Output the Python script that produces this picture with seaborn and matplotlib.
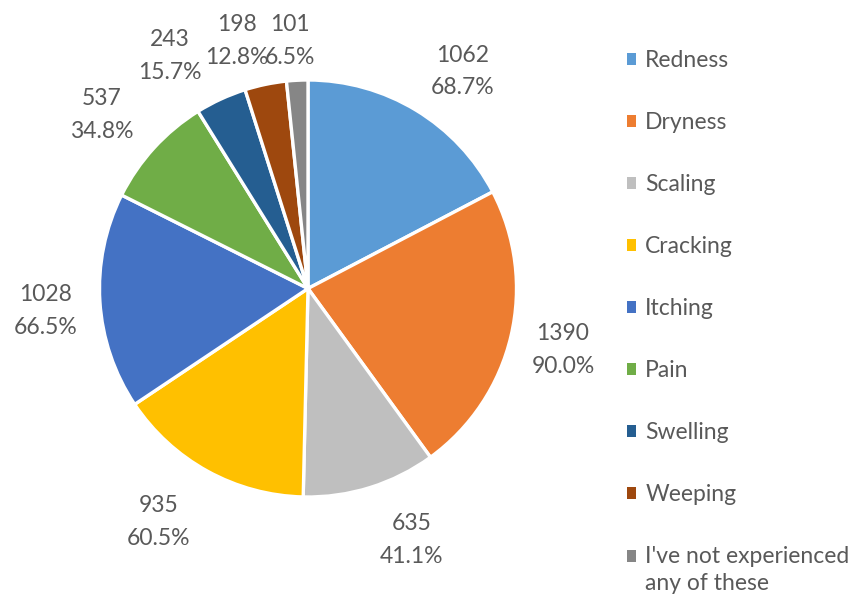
import matplotlib
matplotlib.use("Agg")
import matplotlib.pyplot as plt
from matplotlib.patches import Patch, Rectangle
from matplotlib.legend_handler import HandlerPatch
import numpy as np
import seaborn as sns

# Symptom counts and share of respondents
symptoms = ["Redness", "Dryness", "Scaling", "Cracking", "Itching",
            "Pain", "Swelling", "Weeping", "I've not experienced\nany of these"]
counts = [1062, 1390, 635, 935, 1028, 537, 243, 198, 101]
shares = ["68.7%", "90.0%", "41.1%", "60.5%", "66.5%", "34.8%", "15.7%", "12.8%", "6.5%"]

slice_colors = ["#5B9BD5", "#ED7D31", "#BFBFBF", "#FFC000", "#4472C4",
                "#70AD47", "#255E91", "#9E480E", "#868686"]

# label placement: radial distance plus small per-label nudges (in radius units)
label_radius = 1.24
label_nudge = [(0.10, -0.02), (0.016, -0.012), (0.126, -0.022), (-0.121, -0.034),
               (-0.019, -0.032), (-0.073, -0.004), (-0.144, -0.012), (-0.089, -0.027),
               (-0.021, -0.051)]

sns.set_theme(style="white")
plt.rcParams["font.family"] = ["Lato", "DejaVu Sans"]
text_color = "#595959"
FS = 16.5


class FirstLineHandler(HandlerPatch):
    """Square legend key lifted to sit beside the first line of a two-line label."""

    def __init__(self, lift, **kw):
        super().__init__(**kw)
        self.lift = lift

    def create_artists(self, legend, orig_handle, xdescent, ydescent,
                       width, height, fontsize, trans):
        p = Rectangle((-xdescent, -ydescent + self.lift), width, height)
        self.update_prop(p, orig_handle, legend)
        p.set_transform(trans)
        return [p]


W, H, DPI = 853, 598, 100
fig = plt.figure(figsize=(W / DPI, H / DPI), dpi=DPI)
ax = fig.add_axes([0, 0, 1, 1])

palette = sns.color_palette(slice_colors)
wedges, _ = ax.pie(counts, colors=palette, startangle=90, counterclock=False,
                   radius=1.0, wedgeprops=dict(edgecolor="white", linewidth=2.4))

# pie centre and radius in pixels
cx, cy, R = 308, 288.5, 208.5
ax.set_xlim(-cx / R, (W - cx) / R)
ax.set_ylim(-(H - cy) / R, cy / R)
ax.set_axis_off()

for w, n, s, (nx, ny) in zip(wedges, counts, shares, label_nudge):
    mid = np.deg2rad((w.theta1 + w.theta2) / 2)
    x = label_radius * np.cos(mid) + nx
    y = label_radius * np.sin(mid) + ny
    ax.text(x, y, f"{n}\n{s}", ha="center", va="center", fontsize=FS,
            color=text_color, linespacing=1.7, multialignment="center")

handles = [Patch(facecolor=c, edgecolor="none") for c in palette]
leg = fig.legend(handles, symptoms, loc="upper left",
                 bbox_to_anchor=(627 / W, 1 - 50 / H), frameon=False,
                 fontsize=FS, labelcolor=text_color,
                 handlelength=0.4, handleheight=0.4, handletextpad=0.4,
                 labelspacing=1.79, borderpad=0, borderaxespad=0,
                 handler_map={handles[-1]: FirstLineHandler(lift=10.5)})
leg.get_texts()[-1].set_linespacing(1.35)

fig.savefig("out.png", dpi=DPI, facecolor="white")
